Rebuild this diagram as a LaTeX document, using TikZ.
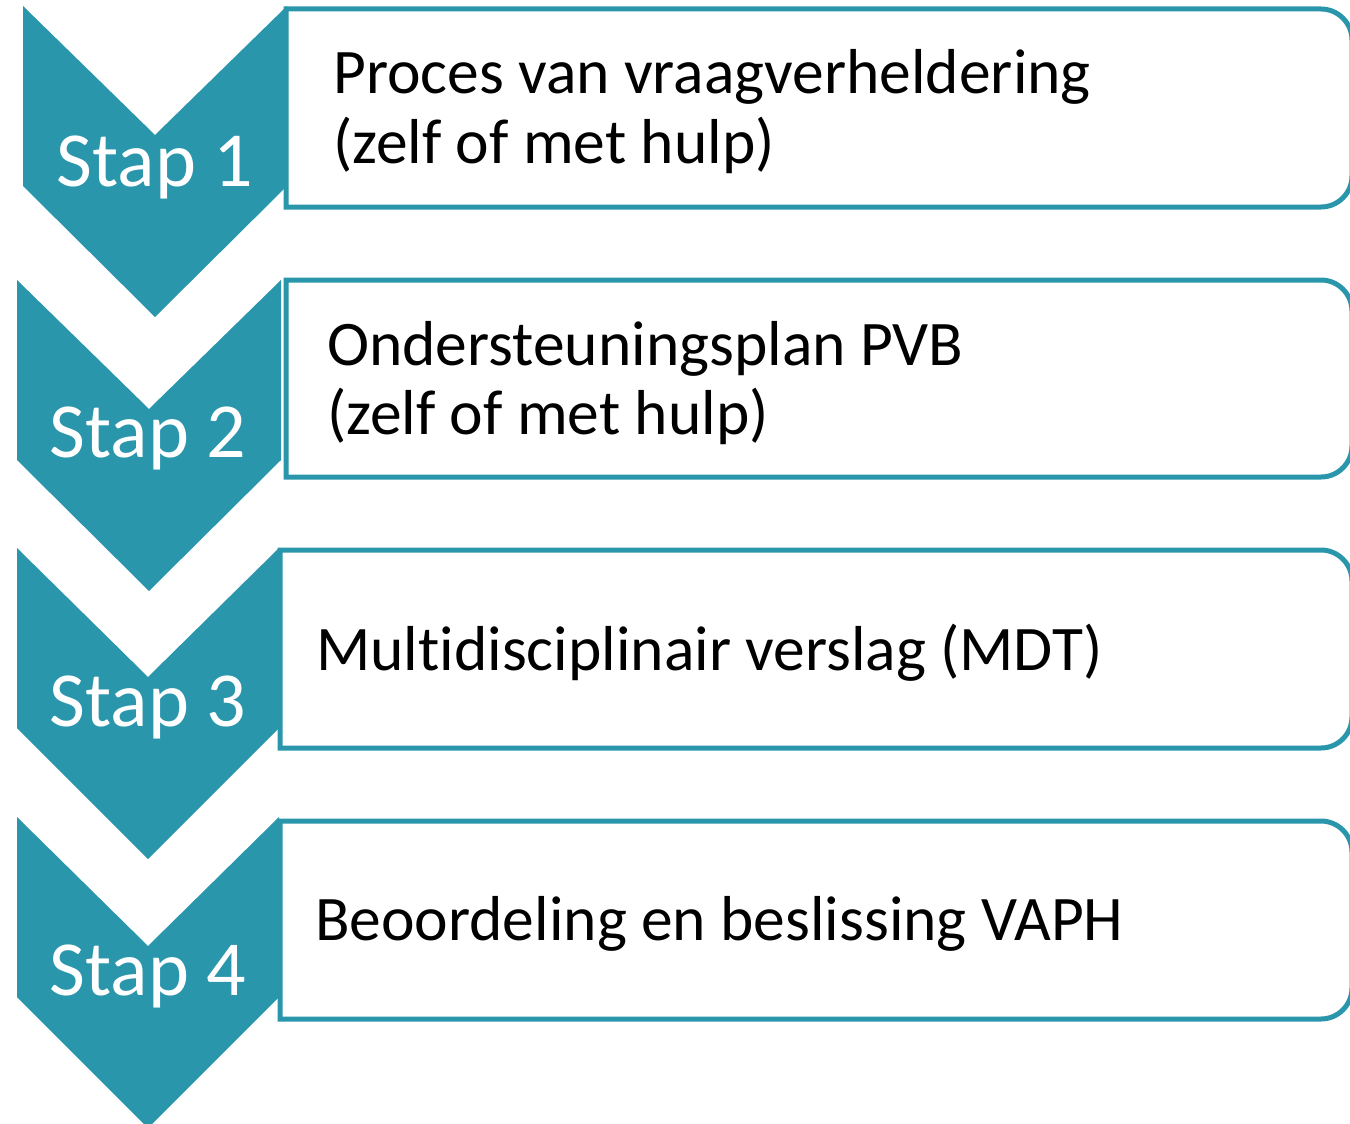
\documentclass[tikz,border=0pt]{standalone}
\usepackage{fontspec}
\setmainfont{Carlito}[Ligatures=NoCommon]
\definecolor{teal}{RGB}{41,150,172}
\begin{document}
\begin{tikzpicture}[x=1pt,y=-1pt,
  chev/.style={fill=teal,draw=none},
  stepbox/.style={draw=teal,line width=5pt,fill=white},
  steplabel/.style={text=white,font=\fontsize{78}{78}\selectfont,inner sep=0pt,anchor=base},
  boxtext/.style={text=black,font=\fontsize{63.5}{63.5}\selectfont,inner sep=0pt,anchor=base west}]
\useasboundingbox (0,0) rectangle (1350,1124);
\clip (0,0) rectangle (1350,1124);
% boxes
\foreach \l/\t/\b [count=\i] in {286/9/207, 286/280/477, 280/550/748, 280/821/1019}{
  \draw[stepbox] (\l,\b) -- (\l,\t) -- (1321,\t) .. controls (1338,\t) and (1352,\t+14) .. (1352,\t+31)
     -- (1352,\b-31) .. controls (1352,\b-14) and (1338,\b) .. (1321,\b) -- cycle;
}
% chevrons
\foreach \x/\w/\t [count=\i] in {23/264/6, 17/264/280, 17/262/548, 17/262/817}{
  \fill[chev] (\x,\t) -- (\x+\w/2,\t+129) -- (\x+\w,\t) -- (\x+\w,\t+180) -- (\x+\w/2,\t+311) -- (\x,\t+180) -- cycle;
}
\node[steplabel] (s1) at (155,186) {Stap 1};
\node[steplabel] (s2) at (148,457) {Stap 2};
\node[steplabel] (s3) at (148,726) {Stap 3};
\node[steplabel] (s4) at (148,995) {Stap 4};
\node[boxtext] (b1a) at (333,93) {Proces van vraagverheldering};
\node[boxtext] (b1b) at (333,163) {(zelf of met hulp)};
\node[boxtext] (b2a) at (327,365) {Ondersteuningsplan PVB};
\node[boxtext] (b2b) at (327,434) {(zelf of met hulp)};
\node[boxtext] (b3) at (316,670) {Multidisciplinair verslag (MDT)};
\node[boxtext] (b4) at (315,940) {Beoordeling en beslissing VAPH};
\end{tikzpicture}
\end{document}
